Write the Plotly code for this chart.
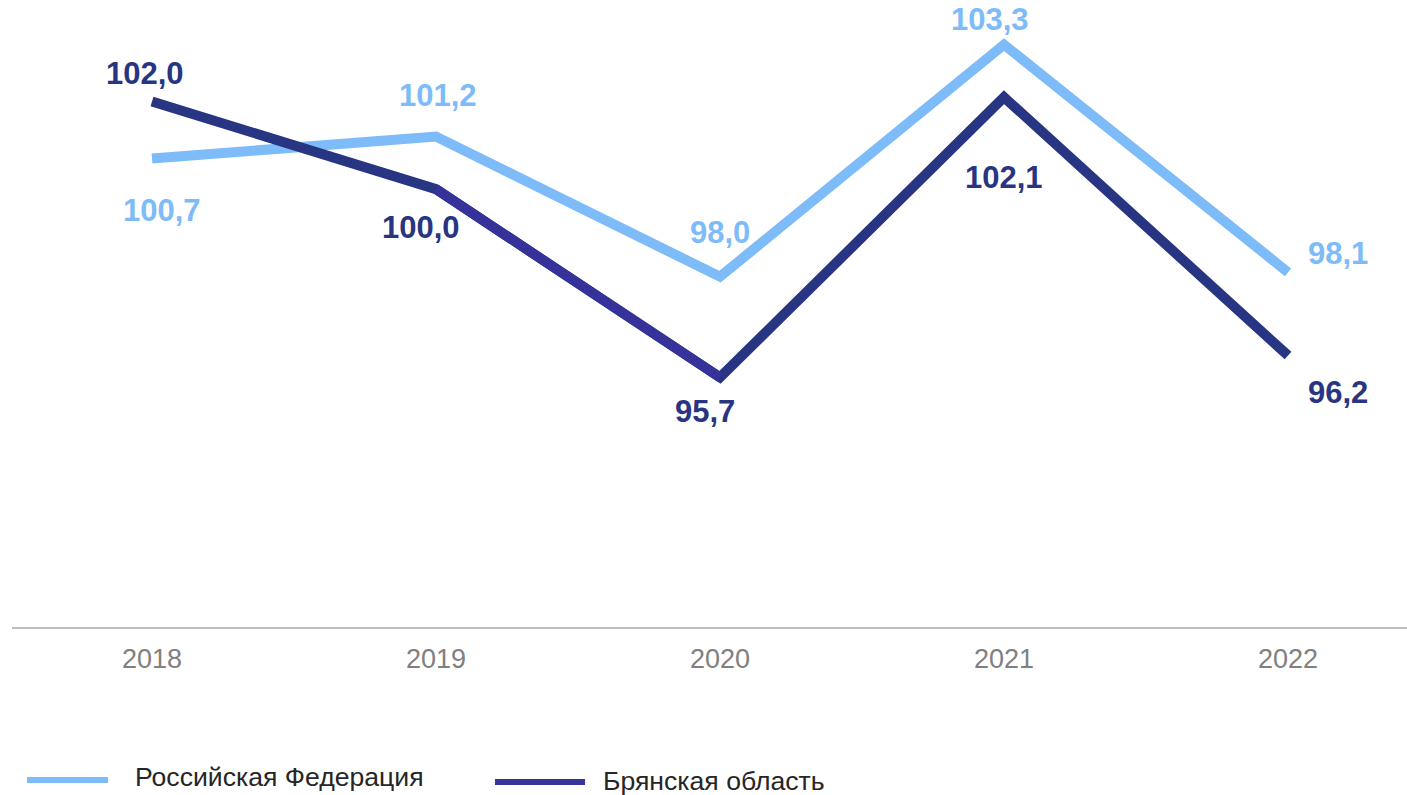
import plotly.graph_objects as go

years = ["2018", "2019", "2020", "2021", "2022"]
rf_values = [100.7, 101.2, 98.0, 103.3, 98.1]
br_values = [102.0, 100.0, 95.7, 102.1, 96.2]
series_names = ["Российская Федерация", "Брянская область"]

RF_COLOR = "#7DBBF9"
BR_COLOR = "#283582"
BR_SEG_COLOR = "#36329A"
LEG_BR_COLOR = "#37359A"

# label offsets (px): (xshift, yshift)
rf_offsets = [(10, -52), (2, 41), (0, 44), (-14, 25), (50, 19)]
br_offsets = [(-7, 28), (-15, -38), (-15, -34), (0, -80), (50, -37)]

W, H = 1407, 795
OFF = 0
ML, MR, MT, MB = 12, 0, 14, 795 - 627
PW, PH = W - ML - MR, H - MT - MB

def fmt(v):
    return f"{v:.1f}".replace(".", ",")

idx = list(range(len(years)))

fig = go.Figure()
fig.add_trace(go.Scatter(x=idx, y=rf_values, mode="lines", name=series_names[0],
                         line=dict(color=RF_COLOR, width=10), showlegend=False))
fig.add_trace(go.Scatter(x=idx, y=br_values, mode="lines", name=series_names[1],
                         line=dict(color=BR_COLOR, width=10), showlegend=False))
fig.add_trace(go.Scatter(x=idx[1:3], y=br_values[1:3], mode="lines", name=series_names[1],
                         line=dict(color=BR_SEG_COLOR, width=10), showlegend=False, hoverinfo="skip"))

annotations = []
for i, v, (dx, dy) in zip(idx, rf_values, rf_offsets):
    annotations.append(dict(x=i, y=v, xref="x", yref="y", text=f"<b>{fmt(v)}</b>", showarrow=False,
                            xshift=dx, yshift=dy, borderpad=0,
                            font=dict(family="Liberation Sans, Arial", size=31, color=RF_COLOR)))
for i, v, (dx, dy) in zip(idx, br_values, br_offsets):
    annotations.append(dict(x=i, y=v, xref="x", yref="y", text=f"<b>{fmt(v)}</b>", showarrow=False,
                            xshift=dx, yshift=dy, borderpad=0,
                            font=dict(family="Liberation Sans, Arial", size=31, color=BR_COLOR)))

def px_to_paper_x(px):
    return (px - OFF - ML) / PW

def px_to_paper_y(py):
    return (H - MB - (py - OFF)) / PH

shapes = [
    dict(type="line", xref="paper", yref="paper",
         x0=px_to_paper_x(27), x1=px_to_paper_x(108), y0=px_to_paper_y(780), y1=px_to_paper_y(780),
         line=dict(color=RF_COLOR, width=6)),
    dict(type="line", xref="paper", yref="paper",
         x0=px_to_paper_x(495), x1=px_to_paper_x(585), y0=px_to_paper_y(782), y1=px_to_paper_y(782),
         line=dict(color=LEG_BR_COLOR, width=6)),
]
annotations.append(dict(x=px_to_paper_x(133), y=px_to_paper_y(777), xref="paper", yref="paper",
                        text=series_names[0], showarrow=False, xanchor="left", yanchor="middle",
                        font=dict(family="Liberation Sans, Arial", size=26.6, color="#262626")))
annotations.append(dict(x=px_to_paper_x(601), y=px_to_paper_y(781), xref="paper", yref="paper",
                        text=series_names[1], showarrow=False, xanchor="left", yanchor="middle",
                        font=dict(family="Liberation Sans, Arial", size=26.6, color="#262626")))

x_left = (OFF + ML - 152) / 284
x_right = (OFF + ML + PW - 152) / 284

fig.update_layout(
    width=W, height=H,
    margin=dict(l=ML, r=MR, t=MT, b=MB),
    paper_bgcolor="white", plot_bgcolor="white",
    annotations=annotations, shapes=shapes,
    xaxis=dict(range=[x_left, x_right], tickmode="array", tickvals=idx, ticktext=years,
               showline=True, linecolor="#BFBFBF", linewidth=2,
               showgrid=False, zeroline=False, ticks="outside", ticklen=7, tickcolor="rgba(0,0,0,0)",
               tickfont=dict(family="Liberation Sans, Arial", size=27, color="#808080")),
    yaxis=dict(range=[90, 104], visible=False, showgrid=False, zeroline=False),
)

fig.write_html("out.html", config={"displayModeBar": False},
               post_script="document.body.style.margin='0';document.body.style.overflow='hidden';")
